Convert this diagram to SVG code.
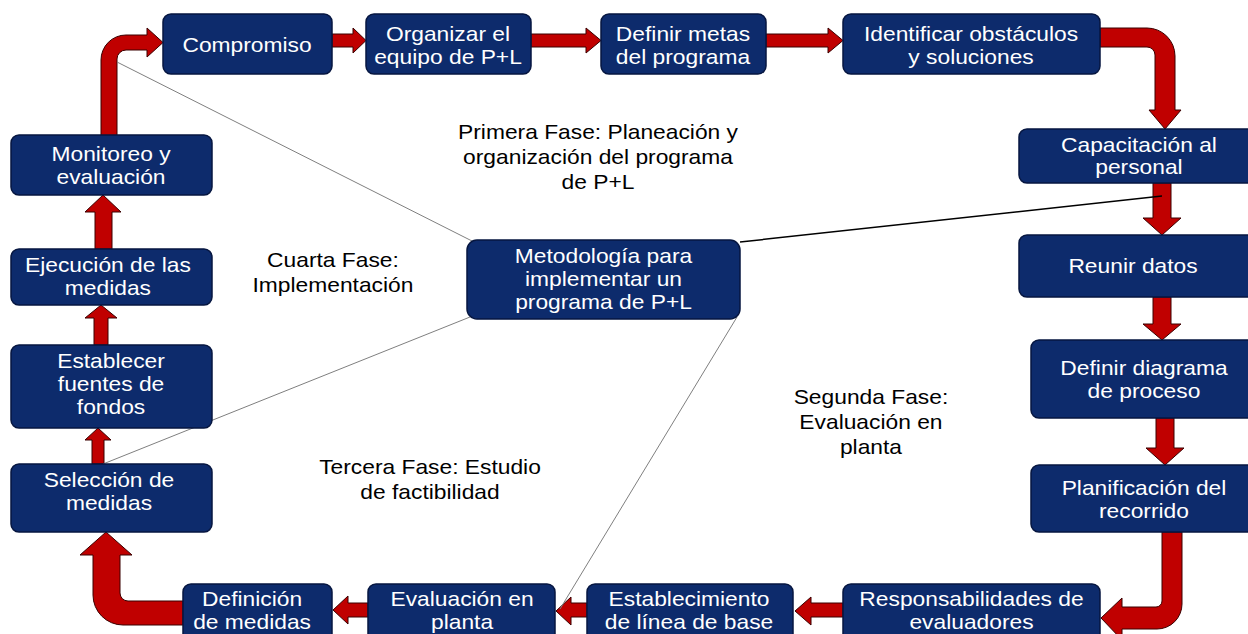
<svg xmlns="http://www.w3.org/2000/svg" width="1248" height="634" viewBox="0 0 1248 634">
<style>
.n{fill:#0d2b6c;stroke:#061640;stroke-width:1.5}
.a{fill:#c00000;stroke:#3a0000;stroke-width:1}
.t{font-family:"Liberation Sans",Arial,sans-serif;font-size:20px;fill:#ffffff;text-anchor:middle}
.l{font-family:"Liberation Sans",Arial,sans-serif;font-size:20px;fill:#000000;text-anchor:middle}
.g{stroke:#7f7f7f;stroke-width:1;fill:none}
.k{stroke:#000000;stroke-width:1.5;fill:none}
</style>
<rect width="1248" height="634" fill="#ffffff"/>
<g id="connectors">
<path class="a" d="M101,136 V60 A25,25 0 0 1 126,35 H147 V28 L163,42.5 L147,57 V50 H126 A9,9 0 0 0 117,59 V136 Z"/>
<path class="a" d="M332,34 H353 V28 L366,40.5 L353,53 V47 H332 Z"/>
<path class="a" d="M531,34 H586 V28 L601,40.5 L586,53 V47 H531 Z"/>
<path class="a" d="M766,34 H828 V28 L843,40.5 L828,53 V47 H766 Z"/>
<path class="a" d="M1100,28 H1147 A28,28 0 0 1 1175,56 V110 H1181 L1165,129 L1149,110 H1155 V55 A8,8 0 0 0 1147,47 H1100 Z"/>
<path class="a" d="M1153,183 V218 H1143 L1162,235 L1181,218 H1171 V183 Z"/>
<path class="a" d="M1153,297 V324 H1143 L1162,340 L1181,324 H1171 V297 Z"/>
<path class="a" d="M1156,418 V448 H1146 L1165,465 L1184,448 H1174 V418 Z"/>
<path class="a" d="M1162,532 V601 A6,6 0 0 1 1156,607 H1122 V598 L1101,618 L1122,640 V629 H1157 A25,25 0 0 0 1182,604 V532 Z"/>
<path class="a" d="M843,603 H811 V597 L795,611 L811,625 V617 H843 Z"/>
<path class="a" d="M587,603 H571 V597 L556,611 L571,625 V617 H587 Z"/>
<path class="a" d="M368,603 H348 V596 L333,610 L348,624 V617 H368 Z"/>
<path class="a" d="M183,601 H128 A8,8 0 0 1 120,593 V555 H132 L106,532 L80,555 H93 V595 A30,30 0 0 0 123,625 H183 Z"/>
<path class="a" d="M92,464 V440 H85 L98,428 L111,440 H104 V464 Z"/>
<path class="a" d="M94,345 V318 H85 L101,305 L117,318 H108 V345 Z"/>
<path class="a" d="M95,249 V212 H85 L103,195 L121,212 H112 V249 Z"/>
<line class="g" x1="117" y1="62" x2="472" y2="241"/>
<line class="k" x1="740" y1="242" x2="1162" y2="196"/>
<line class="g" x1="470" y1="317" x2="103" y2="464"/>
<line class="g" x1="737" y1="317" x2="560" y2="609"/>
</g>
<g id="compromiso"><rect class="n" x="163" y="14" width="169" height="60" rx="8"/><text class="t" transform="scale(1.14 1)" x="216.7" y="52">Compromiso</text></g>
<g id="organizar"><rect class="n" x="366" y="14" width="165" height="60" rx="8"/><text class="t" transform="scale(1.14 1)"><tspan x="393" y="41">Organizar el</tspan><tspan x="393" y="64">equipo de P+L</tspan></text></g>
<g id="definir-metas"><rect class="n" x="601" y="14" width="165" height="60" rx="8"/><text class="t" transform="scale(1.14 1)"><tspan x="599.1" y="41">Definir metas</tspan><tspan x="599.1" y="64">del programa</tspan></text></g>
<g id="identificar"><rect class="n" x="843" y="14" width="257" height="60" rx="8"/><text class="t" transform="scale(1.14 1)"><tspan x="851.8" y="41">Identificar obstáculos</tspan><tspan x="851.8" y="64">y soluciones</tspan></text></g>
<g id="capacitacion"><rect class="n" x="1019" y="129" width="237" height="54" rx="8"/><text class="t" transform="scale(1.14 1)"><tspan x="999.1" y="152">Capacitación al</tspan><tspan x="999.1" y="174">personal</tspan></text></g>
<g id="reunir"><rect class="n" x="1019" y="235" width="237" height="62" rx="8"/><text class="t" transform="scale(1.14 1)" x="993.9" y="273">Reunir datos</text></g>
<g id="definir-diagrama"><rect class="n" x="1031" y="340" width="225" height="78" rx="8"/><text class="t" transform="scale(1.14 1)"><tspan x="1003.5" y="375">Definir diagrama</tspan><tspan x="1003.5" y="398">de proceso</tspan></text></g>
<g id="planificacion"><rect class="n" x="1031" y="465" width="225" height="67" rx="8"/><text class="t" transform="scale(1.14 1)"><tspan x="1003.5" y="495">Planificación del</tspan><tspan x="1003.5" y="518">recorrido</tspan></text></g>
<g id="responsabilidades"><rect class="n" x="843" y="584" width="257" height="62" rx="8"/><text class="t" transform="scale(1.14 1)"><tspan x="852.2" y="606">Responsabilidades de</tspan><tspan x="852.2" y="629">evaluadores</tspan></text></g>
<g id="establecimiento"><rect class="n" x="587" y="584" width="206" height="62" rx="8"/><text class="t" transform="scale(1.14 1)"><tspan x="604.4" y="606">Establecimiento</tspan><tspan x="604.4" y="629">de línea de base</tspan></text></g>
<g id="evaluacion-planta"><rect class="n" x="368" y="584" width="187" height="62" rx="8"/><text class="t" transform="scale(1.14 1)"><tspan x="405.3" y="606">Evaluación en</tspan><tspan x="405.3" y="629">planta</tspan></text></g>
<g id="definicion"><rect class="n" x="183" y="584" width="149" height="62" rx="8"/><text class="t" transform="scale(1.14 1)"><tspan x="221.1" y="606">Definición</tspan><tspan x="221.1" y="629">de medidas</tspan></text></g>
<g id="seleccion"><rect class="n" x="11" y="464" width="201" height="68" rx="8"/><text class="t" transform="scale(1.14 1)"><tspan x="95.6" y="487">Selección de</tspan><tspan x="95.6" y="510">medidas</tspan></text></g>
<g id="establecer"><rect class="n" x="11" y="345" width="201" height="83" rx="8"/><text class="t" transform="scale(1.14 1)"><tspan x="97.4" y="368">Establecer</tspan><tspan x="97.4" y="391">fuentes de</tspan><tspan x="97.4" y="414">fondos</tspan></text></g>
<g id="ejecucion"><rect class="n" x="11" y="249" width="201" height="56" rx="8"/><text class="t" transform="scale(1.14 1)"><tspan x="94.7" y="272">Ejecución de las</tspan><tspan x="94.7" y="295">medidas</tspan></text></g>
<g id="monitoreo"><rect class="n" x="11" y="135" width="201" height="60" rx="8"/><text class="t" transform="scale(1.14 1)"><tspan x="97.4" y="161">Monitoreo y</tspan><tspan x="97.4" y="184">evaluación</tspan></text></g>
<g id="metodologia"><rect class="n" x="467" y="240" width="273" height="79" rx="10"/><text class="t" transform="scale(1.14 1)"><tspan x="529.4" y="263">Metodología para</tspan><tspan x="529.4" y="286">implementar un</tspan><tspan x="529.4" y="309">programa de P+L</tspan></text></g>
<g id="labels">
<text class="l" transform="scale(1.14 1)"><tspan x="524.6" y="139">Primera Fase: Planeación y</tspan><tspan x="524.6" y="164">organización del programa</tspan><tspan x="524.6" y="189">de P+L</tspan></text>
<text class="l" transform="scale(1.14 1)"><tspan x="292.1" y="267">Cuarta Fase:</tspan><tspan x="292.1" y="292">Implementación</tspan></text>
<text class="l" transform="scale(1.14 1)"><tspan x="764" y="404">Segunda Fase:</tspan><tspan x="764" y="429">Evaluación en</tspan><tspan x="764" y="454">planta</tspan></text>
<text class="l" transform="scale(1.14 1)"><tspan x="377.2" y="474">Tercera Fase: Estudio</tspan><tspan x="377.2" y="499">de factibilidad</tspan></text>
</g>
</svg>
